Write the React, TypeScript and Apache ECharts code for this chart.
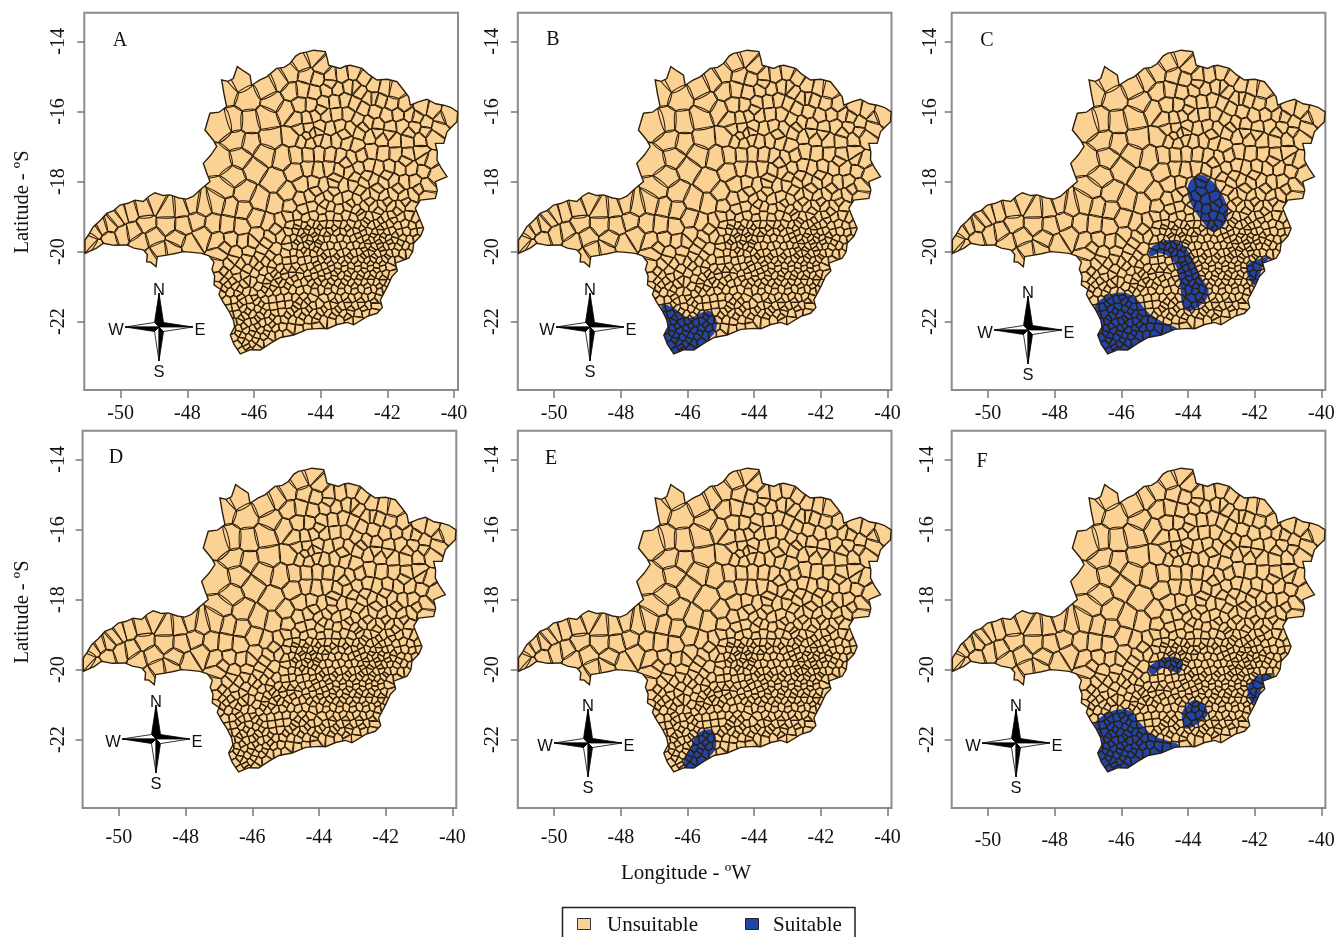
import React, { useEffect, useRef } from "react";
import * as echarts from "echarts";

type P = [number, number];

const xTicks = [-50, -48, -46, -44, -42, -40];
const yTicks = [-14, -16, -18, -20, -22];
const panelNames = ["A", "B", "C", "D", "E", "F"];
const legendNames = ["Unsuitable", "Suitable"];

// State outline (longitude, latitude)
const stateOutline: P[] = [
  [-51.07,-20.05],[-51.07,-19.67],[-50.95,-19.5],[-50.82,-19.29],[-50.62,-19.12],[-50.42,-18.91],[-50.2,-18.82],[-50.02,-18.67],[-49.78,-18.62],[-49.57,-18.53],[-49.32,-18.57],[-49.15,-18.42],[-48.97,-18.32],[-48.72,-18.4],[-48.52,-18.38],[-48.25,-18.47],[-48.02,-18.5],[-47.82,-18.42],[-47.62,-18.24],[-47.32,-18.0],[-47.42,-17.75],[-47.52,-17.48],[-47.3,-17.25],[-47.12,-17.0],[-47.22,-16.82],[-47.47,-16.53],[-47.4,-16.3],[-47.32,-16.05],[-47.05,-16.02],[-46.82,-15.86],[-46.9,-15.5],[-46.97,-15.1],[-46.78,-15.14],[-46.62,-15.06],[-46.5,-14.72],[-46.3,-14.85],[-46.12,-14.96],[-46.07,-15.25],[-45.82,-15.1],[-45.62,-15.01],[-45.32,-14.77],[-45.1,-14.74],[-44.92,-14.63],[-44.75,-14.42],[-44.62,-14.34],[-44.4,-14.3],[-44.21,-14.25],[-43.86,-14.29],[-43.8,-14.5],[-43.76,-14.68],[-43.41,-14.77],[-43.25,-14.7],[-43.11,-14.68],[-42.76,-14.77],[-42.55,-14.95],[-42.31,-15.1],[-42.0,-15.08],[-41.71,-15.15],[-41.5,-15.4],[-41.36,-15.58],[-41.31,-15.82],[-41.05,-15.72],[-40.81,-15.65],[-40.55,-15.78],[-40.31,-15.82],[-40.1,-15.88],[-39.89,-16.01],[-39.91,-16.29],[-40.05,-16.42],[-40.21,-16.58],[-40.31,-16.91],[-40.56,-16.91],[-40.5,-17.15],[-40.51,-17.39],[-40.38,-17.62],[-40.21,-17.86],[-40.56,-18.0],[-40.5,-18.25],[-40.56,-18.48],[-41.01,-18.53],[-41.16,-18.76],[-41.06,-19.0],[-40.91,-19.34],[-41.0,-19.55],[-41.21,-19.76],[-41.24,-20.0],[-41.36,-20.19],[-41.76,-20.33],[-41.7,-20.55],[-41.86,-20.71],[-42.0,-21.0],[-42.21,-21.38],[-42.15,-21.6],[-42.31,-21.76],[-42.6,-21.85],[-43.01,-22.09],[-43.2,-22.02],[-43.5,-22.08],[-43.8,-22.2],[-44.01,-22.19],[-44.4,-22.22],[-44.81,-22.38],[-45.2,-22.45],[-45.51,-22.62],[-45.81,-22.81],[-46.1,-22.8],[-46.41,-22.92],[-46.6,-22.65],[-46.71,-22.38],[-46.58,-22.15],[-46.62,-21.95],[-46.75,-21.7],[-46.92,-21.45],[-47.05,-21.22],[-47.0,-21.08],[-47.2,-20.95],[-47.18,-20.7],[-47.26,-20.5],[-47.2,-20.3],[-47.35,-20.12],[-47.57,-20.05],[-47.85,-20.02],[-48.12,-20.0],[-48.4,-20.06],[-48.62,-20.1],[-48.9,-20.14],[-48.94,-20.43],[-49.1,-20.3],[-49.22,-20.29],[-49.2,-20.08],[-49.32,-19.95],[-49.6,-19.9],[-49.82,-19.81],[-50.2,-19.82],[-50.52,-19.76],[-50.72,-19.9],
];

// Municipality centres; the boundary mesh is derived from them
const triangleSeats: P[] = [
  [-50.88,-19.72],[-50.55,-19.32],[-50.35,-19.62],[-50.12,-19.08],[-49.95,-19.48],[-49.7,-18.88],[-49.62,-19.42],[-49.3,-18.78],[-49.25,-19.2],[-48.95,-18.62],[-49.0,-19.62],[-49.42,-19.72],[-48.85,-19.98],[-48.62,-18.82],[-48.6,-19.22],[-48.32,-19.65],[-48.18,-18.78],[-48.12,-19.25],[-47.92,-19.8],[-47.85,-18.66],[-47.72,-19.12],[-47.55,-19.55],[-47.52,-18.72],[-50.72,-19.85],[-49.1,-20.18],[-48.45,-19.92],[-50.75,-19.45],[-50.3,-19.25],[-49.95,-18.95],
];
const northwestSeats: P[] = [
  [-46.82,-15.42],[-46.42,-15.12],[-46.18,-15.62],[-45.62,-15.32],[-45.22,-15.12],[-45.42,-15.72],[-44.92,-14.92],[-44.88,-15.42],[-45.02,-15.98],[-45.62,-16.18],[-46.12,-16.32],[-46.88,-16.38],[-46.52,-16.82],[-46.98,-17.42],[-45.98,-17.62],[-46.12,-16.92],[-45.52,-16.78],[-45.12,-17.32],[-45.38,-17.98],[-46.62,-17.88],[-46.88,-18.22],[-46.32,-18.32],[-45.82,-18.55],[-45.35,-18.65],[-44.98,-18.32],[-46.62,-16.3],[-45.68,-17.22],[-46.4,-17.3],
];
const northSeats: P[] = [
  [-44.55,-14.62],[-44.22,-14.48],[-43.98,-14.72],[-44.42,-14.98],[-44.08,-15.08],[-43.7,-15.02],[-43.35,-14.98],[-43.02,-14.92],[-42.72,-15.08],[-42.42,-15.28],[-42.08,-15.35],[-41.75,-15.42],[-44.55,-15.38],[-44.18,-15.45],[-43.82,-15.38],[-43.5,-15.35],[-43.15,-15.28],[-42.82,-15.42],[-42.55,-15.62],[-42.22,-15.68],[-41.85,-15.78],[-41.5,-15.82],[-44.62,-15.82],[-44.28,-15.82],[-43.92,-15.75],[-43.58,-15.72],[-43.28,-15.68],[-42.98,-15.78],[-42.72,-15.92],[-42.38,-16.0],[-42.02,-16.12],[-41.68,-16.08],[-41.32,-16.1],[-40.98,-15.92],[-40.62,-16.0],[-40.22,-16.12],[-44.72,-16.22],[-44.42,-16.2],[-44.15,-16.12],[-43.85,-16.12],[-43.52,-16.08],[-43.18,-16.08],[-42.88,-16.22],[-42.58,-16.32],[-42.28,-16.38],[-41.92,-16.45],[-41.55,-16.42],[-41.18,-16.45],[-40.82,-16.32],[-40.48,-16.42],[-44.62,-16.52],[-44.38,-16.48],[-44.22,-16.62],[-44.02,-16.42],[-43.72,-16.48],[-43.42,-16.42],[-43.12,-16.48],[-42.82,-16.6],[-42.52,-16.7],[-42.15,-16.78],[-41.78,-16.82],[-41.4,-16.82],[-41.02,-16.78],[-40.68,-16.72],[-44.82,-16.72],[-44.55,-16.82],[-44.32,-16.88],[-44.08,-16.78],[-43.85,-16.85],[-43.52,-16.82],[-43.22,-16.88],[-42.92,-16.98],
  [-42.95,-15.3],[-42.4,-15.62],[-41.12,-16.15],[-40.42,-16.2],[-43.72,-15.2],[-44.0,-15.95],[-42.72,-16.45],[-41.35,-16.62],[-40.85,-16.58],[-44.42,-16.7],[-44.1,-16.58],[-43.3,-16.65],[-42.3,-16.6],[-41.95,-16.65],
];
const centreSeats: P[] = [
  [-44.72,-17.25],[-44.38,-17.22],[-44.05,-17.2],[-43.72,-17.22],[-43.4,-17.28],[-43.08,-17.32],[-42.78,-17.25],[-42.48,-17.15],[-42.12,-17.2],[-41.75,-17.22],[-41.38,-17.25],[-41.02,-17.18],[-40.78,-17.42],[-44.75,-17.72],[-44.38,-17.62],[-44.08,-17.68],[-43.75,-17.62],[-43.45,-17.68],[-43.15,-17.72],[-42.85,-17.62],[-42.55,-17.55],[-42.25,-17.62],[-41.95,-17.58],[-41.62,-17.62],[-41.28,-17.62],[-40.92,-17.68],[-40.55,-17.82],[-44.55,-18.08],[-44.22,-18.05],[-43.92,-18.12],[-43.6,-18.05],[-43.32,-18.12],[-43.02,-18.1],[-42.72,-18.02],[-42.42,-17.95],[-42.12,-18.02],[-41.82,-17.98],[-41.5,-18.02],[-41.18,-18.0],[-40.85,-18.12],[-44.62,-18.52],[-44.3,-18.42],[-44.02,-18.5],[-43.75,-18.42],[-43.48,-18.5],[-43.2,-18.45],[-42.92,-18.52],[-42.65,-18.4],[-42.38,-18.35],[-42.1,-18.42],[-41.82,-18.36],[-41.52,-18.42],[-41.22,-18.38],[-40.88,-18.42],[-44.9,-18.72],[-44.55,-18.8],[-44.25,-18.72],[-43.98,-18.82],[-43.72,-18.72],[-43.45,-18.8],[-43.18,-18.72],[-42.92,-18.8],[-42.68,-18.7],[-42.42,-18.72],[-42.15,-18.68],[-41.88,-18.72],[-41.6,-18.7],[-41.32,-18.7],
  [-43.25,-17.45],[-42.62,-17.85],[-42.02,-17.82],[-41.45,-17.4],[-40.9,-17.38],[-43.55,-17.92],[-42.98,-17.88],[-42.28,-18.2],[-41.68,-18.2],[-41.05,-18.22],[-43.1,-18.62],[-42.55,-18.58],[-42.02,-18.58],[-41.45,-18.58],[-43.62,-18.28],[-44.15,-18.28],[-42.82,-18.25],[-43.88,-18.65],[-42.28,-18.85],[-41.72,-18.85],[-42.82,-18.9],
];
const midwestSeats: P[] = [
  [-47.1,-18.62],[-46.72,-18.72],[-46.32,-18.82],[-47.22,-19.2],[-46.8,-19.25],[-46.38,-19.3],[-45.95,-19.05],[-45.55,-19.18],[-45.2,-19.15],[-47.08,-19.7],[-46.7,-19.65],[-46.3,-19.7],[-45.9,-19.55],[-45.52,-19.6],[-45.18,-19.55],[-47.0,-20.05],[-46.55,-20.05],[-46.15,-20.0],[-45.75,-19.95],[-45.38,-19.95],[-47.08,-20.42],[-46.75,-20.38],[-46.4,-20.35],[-46.0,-20.3],[-45.65,-20.28],[-45.3,-20.25],
  [-46.9,-19.9],[-46.05,-19.72],[-45.62,-19.75],[-45.35,-19.35],[-46.2,-20.22],[-45.82,-20.15],[-45.5,-20.12],[-46.6,-20.22],[-46.9,-20.58],[-46.55,-20.55],[-46.2,-20.5],[-45.85,-20.42],[-45.45,-20.38],
];
const southSeats: P[] = [
  [-44.95,-19.02],[-44.7,-18.98],[-44.45,-19.05],[-44.2,-18.98],[-43.95,-19.05],[-43.72,-18.98],[-43.48,-19.04],[-43.25,-18.96],[-43.02,-19.04],[-42.78,-18.96],[-42.55,-19.03],[-42.32,-18.96],[-42.08,-19.04],[-41.85,-18.97],[-41.6,-19.03],[-41.35,-18.98],[-41.15,-19.06],
  [-44.9,-19.24],[-44.68,-19.2],[-44.48,-19.26],[-44.3,-19.2],[-44.12,-19.26],[-43.92,-19.2],[-43.72,-19.25],[-43.5,-19.2],[-43.3,-19.26],[-43.08,-19.2],[-42.88,-19.26],[-42.68,-19.2],[-42.48,-19.26],[-42.3,-19.2],[-42.12,-19.26],[-41.92,-19.2],[-41.7,-19.26],[-41.48,-19.2],[-41.25,-19.26],[-41.02,-19.22],
  [-44.95,-19.44],[-44.75,-19.4],[-44.58,-19.46],[-44.42,-19.4],[-44.26,-19.44],[-44.1,-19.4],[-43.92,-19.45],[-43.72,-19.4],[-43.52,-19.45],[-43.32,-19.42],[-43.12,-19.46],[-42.92,-19.41],[-42.72,-19.46],[-42.55,-19.41],[-42.38,-19.46],[-42.2,-19.41],[-42.02,-19.46],[-41.85,-19.41],[-41.65,-19.46],[-41.42,-19.42],[-41.2,-19.46],[-41.0,-19.42],
  [-44.98,-19.66],[-44.82,-19.62],[-44.65,-19.66],[-44.48,-19.6],[-44.32,-19.64],[-44.16,-19.6],[-44.0,-19.65],[-43.82,-19.6],[-43.62,-19.65],[-43.42,-19.6],[-43.22,-19.66],[-43.02,-19.61],[-42.82,-19.66],[-42.65,-19.61],[-42.48,-19.66],[-42.32,-19.61],[-42.15,-19.65],[-41.98,-19.6],[-41.78,-19.66],[-41.55,-19.62],[-41.32,-19.66],[-41.12,-19.62],
  [-44.95,-19.86],[-44.78,-19.82],[-44.6,-19.86],[-44.42,-19.82],[-44.25,-19.85],[-44.08,-19.8],[-43.9,-19.86],[-43.7,-19.82],[-43.5,-19.86],[-43.32,-19.8],[-43.12,-19.85],[-42.92,-19.8],[-42.75,-19.86],[-42.58,-19.81],[-42.4,-19.86],[-42.22,-19.81],[-42.05,-19.86],[-41.88,-19.82],[-41.68,-19.86],[-41.45,-19.82],[-41.25,-19.88],
  [-45.02,-20.06],[-44.82,-20.02],[-44.62,-20.06],[-44.42,-20.02],[-44.22,-20.05],[-44.02,-20.0],[-43.82,-20.06],[-43.62,-20.02],[-43.42,-20.06],[-43.22,-20.0],[-43.02,-20.05],[-42.82,-20.0],[-42.65,-20.06],[-42.48,-20.01],[-42.3,-20.06],[-42.12,-20.01],[-41.95,-20.06],[-41.75,-20.02],[-41.55,-20.06],[-41.35,-20.04],
  [-45.0,-20.26],[-44.8,-20.22],[-44.58,-20.27],[-44.38,-20.22],[-44.18,-20.26],[-43.98,-20.21],[-43.78,-20.26],[-43.58,-20.21],[-43.38,-20.26],[-43.18,-20.21],[-42.98,-20.26],[-42.78,-20.2],[-42.6,-20.26],[-42.42,-20.21],[-42.24,-20.26],[-42.06,-20.21],[-41.88,-20.26],[-41.66,-20.24],
  [-45.98,-20.62],[-45.72,-20.56],[-45.48,-20.52],[-45.22,-20.48],[-44.98,-20.46],[-44.75,-20.42],[-44.52,-20.47],[-44.3,-20.42],[-44.08,-20.47],[-43.88,-20.42],[-43.68,-20.47],[-43.48,-20.42],[-43.28,-20.47],[-43.08,-20.42],[-42.88,-20.47],[-42.68,-20.41],[-42.5,-20.46],[-42.32,-20.41],[-42.14,-20.46],[-41.95,-20.42],
  [-47.02,-20.72],[-46.78,-20.68],[-46.52,-20.72],[-46.28,-20.66],[-46.05,-20.84],[-45.78,-20.78],[-45.55,-20.74],[-45.3,-20.7],[-45.08,-20.68],[-44.85,-20.64],[-44.62,-20.68],[-44.4,-20.64],[-44.18,-20.68],[-43.98,-20.63],[-43.78,-20.68],[-43.58,-20.63],[-43.38,-20.68],[-43.18,-20.63],[-42.98,-20.68],[-42.78,-20.62],[-42.6,-20.67],[-42.42,-20.62],[-42.24,-20.67],[-42.05,-20.63],[-41.88,-20.68],
  [-47.05,-21.0],[-46.8,-20.94],[-46.55,-20.98],[-46.3,-20.94],[-45.85,-21.0],[-45.62,-20.96],[-45.38,-20.93],[-45.15,-20.9],[-44.92,-20.86],[-44.7,-20.9],[-44.48,-20.85],[-44.28,-20.9],[-44.08,-20.85],[-43.88,-20.9],[-43.68,-20.84],[-43.48,-20.9],[-43.28,-20.85],[-43.08,-20.9],[-42.88,-20.84],[-42.68,-20.89],[-42.5,-20.84],[-42.32,-20.89],[-42.14,-20.85],[-41.98,-20.92],
  [-46.98,-21.2],[-46.72,-21.16],[-46.48,-21.2],[-46.24,-21.14],[-46.02,-21.2],[-45.78,-21.2],[-45.55,-21.16],[-45.32,-21.14],[-45.08,-21.1],[-44.85,-21.08],[-44.62,-21.12],[-44.4,-21.07],[-44.18,-21.12],[-43.98,-21.07],[-43.78,-21.12],[-43.58,-21.06],[-43.38,-21.12],[-43.18,-21.07],[-42.98,-21.12],[-42.78,-21.06],[-42.58,-21.11],[-42.4,-21.06],[-42.22,-21.12],[-42.08,-21.08],
  [-46.82,-21.4],[-46.58,-21.38],[-46.35,-21.42],[-46.12,-21.36],[-45.9,-21.42],[-45.68,-21.38],[-45.45,-21.36],[-45.22,-21.33],[-44.98,-21.3],[-44.75,-21.32],[-44.52,-21.28],[-44.27,-21.33],[-43.88,-21.33],[-43.68,-21.28],[-43.48,-21.34],[-43.28,-21.28],[-43.08,-21.33],[-42.88,-21.27],[-42.68,-21.32],[-42.48,-21.28],[-42.28,-21.33],
  [-46.78,-21.62],[-46.55,-21.58],[-46.32,-21.62],[-46.1,-21.58],[-45.88,-21.63],[-45.65,-21.58],[-45.42,-21.56],[-45.18,-21.52],[-44.95,-21.5],[-44.72,-21.54],[-44.48,-21.5],[-44.25,-21.54],[-44.02,-21.5],[-43.8,-21.55],[-43.6,-21.5],[-43.38,-21.56],[-43.18,-21.5],[-42.98,-21.55],[-42.78,-21.49],[-42.58,-21.54],[-42.38,-21.52],
  [-46.72,-21.82],[-46.5,-21.78],[-46.28,-21.83],[-46.05,-21.78],[-45.82,-21.83],[-45.6,-21.78],[-45.38,-21.76],[-45.15,-21.72],[-44.9,-21.72],[-44.68,-21.76],[-44.45,-21.72],[-44.22,-21.76],[-44.0,-21.72],[-43.78,-21.76],[-43.55,-21.72],[-43.32,-21.78],[-43.1,-21.72],[-42.88,-21.76],[-42.65,-21.72],[-42.42,-21.74],
  [-46.62,-22.02],[-46.42,-21.98],[-46.2,-22.03],[-45.98,-21.98],[-45.76,-22.03],[-45.55,-21.98],[-45.32,-21.95],[-45.08,-21.93],[-44.85,-21.95],[-44.62,-21.98],[-44.38,-21.94],[-44.15,-21.98],[-43.92,-21.94],[-43.68,-21.96],[-43.42,-21.94],[-43.15,-21.96],[-42.9,-21.95],
  [-46.65,-22.24],[-46.45,-22.2],[-46.24,-22.24],[-46.02,-22.2],[-45.8,-22.24],[-45.58,-22.2],[-45.36,-22.18],[-45.14,-22.15],[-44.9,-22.17],[-44.65,-22.2],[-44.4,-22.16],[-44.12,-22.1],
  [-46.58,-22.44],[-46.36,-22.4],[-46.14,-22.44],[-45.92,-22.4],[-45.7,-22.42],[-45.48,-22.38],[-45.25,-22.36],[-45.02,-22.34],
  [-46.48,-22.64],[-46.26,-22.6],[-46.05,-22.64],[-45.82,-22.6],[-45.6,-22.58],
  [-46.36,-22.84],[-46.14,-22.8],[-45.92,-22.76],
];
// Tight clusters where the reference map turns almost black
const clusterSeats: P[] = [
  [-44.4,-19.33],[-44.2,-19.52],[-44.52,-19.54],[-44.05,-19.31],[-43.82,-19.52],[-44.35,-19.74],[-44.72,-19.73],[-44.05,-19.73],[-44.5,-19.96],[-44.14,-19.93],[-44.72,-19.3],[-43.6,-19.33],[-43.22,-19.33],
  [-42.2,-19.33],[-42.4,-19.53],[-42.1,-19.55],[-41.92,-19.73],[-42.25,-19.73],[-42.58,-19.73],[-42.88,-19.54],[-42.78,-19.33],[-41.75,-19.53],[-42.45,-19.93],[-42.14,-19.93],[-42.72,-19.93],[-41.6,-19.74],[-42.62,-19.12],[-42.2,-19.12],[-41.82,-19.1],
  [-43.9,-20.13],[-43.52,-20.14],[-43.12,-20.13],[-42.72,-20.13],[-42.38,-20.14],[-42.0,-20.14],[-43.3,-20.34],[-42.9,-20.35],[-42.52,-20.34],[-42.16,-20.34],[-44.14,-20.34],[-43.72,-20.34],[-43.5,-20.55],[-43.1,-20.55],[-42.7,-20.54],[-42.33,-20.53],[-44.2,-20.55],[-43.82,-20.56],[-44.6,-20.55],
  [-43.6,-20.75],[-43.22,-20.76],[-42.85,-20.74],[-42.5,-20.75],[-42.14,-20.76],[-43.98,-20.76],[-44.38,-20.76],[-44.78,-20.76],[-43.38,-20.98],[-43.0,-20.98],[-42.62,-20.97],[-42.26,-20.98],[-43.78,-20.98],[-44.18,-20.98],
  [-46.42,-21.3],[-46.0,-21.3],[-45.78,-21.5],[-46.42,-21.5],[-46.18,-21.7],[-45.72,-21.7],[-46.38,-21.9],[-45.9,-21.92],[-45.45,-21.87],[-46.3,-22.13],[-45.9,-22.12],[-45.46,-22.08],[-46.48,-22.33],[-46.05,-22.33],[-45.62,-22.32],[-46.38,-22.53],[-45.96,-22.52],[-46.2,-22.72],
  [-45.0,-21.82],[-44.55,-21.85],[-44.1,-21.85],[-43.65,-21.85],[-43.2,-21.87],[-44.78,-21.63],[-44.35,-21.63],[-43.9,-21.65],[-43.48,-21.65],[-43.08,-21.64],[-42.68,-21.63],[-44.65,-21.42],[-44.4,-21.42],[-43.58,-21.42],[-43.18,-21.41],[-42.78,-21.41],[-42.38,-21.42],
  [-46.9,-21.05],[-46.42,-21.07],[-46.64,-20.84],[-46.18,-20.82],[-46.9,-20.83],[-45.4,-20.62],[-45.1,-20.58],[-44.85,-20.53],[-45.62,-20.86],[-45.25,-20.82],[-45.42,-21.04],[-45.0,-20.98],[-45.68,-21.08],
];

// Suitable areas per panel
const suitableB: P[][] = [[
  [-46.76,-21.52],[-46.41,-21.61],[-46.12,-21.81],[-45.91,-21.89],[-45.61,-21.75],[-45.31,-21.71],[-45.13,-21.95],[-45.19,-22.32],[-45.71,-22.75],[-46.12,-23.0],[-46.5,-23.0],[-46.8,-22.5],[-46.75,-21.9],
]];
const suitableC: P[][] = [
  [[-43.62,-17.81],[-43.27,-18.0],[-42.97,-18.38],[-42.8,-18.86],[-42.92,-19.24],[-43.27,-19.43],[-43.57,-19.14],[-43.87,-18.72],[-44.02,-18.29],[-43.92,-17.96]],
  [[-45.17,-20.0],[-45.02,-19.81],[-44.57,-19.67],[-44.17,-19.81],[-43.87,-20.19],[-43.62,-20.71],[-43.39,-21.09],[-43.47,-21.38],[-43.97,-21.71],[-44.17,-21.52],[-44.22,-21.09],[-44.32,-20.52],[-44.52,-20.19],[-44.87,-20.05],[-45.12,-20.14]],
  [[-41.97,-20.24],[-41.57,-20.16],[-41.77,-20.43],[-41.87,-20.76],[-42.02,-20.95],[-42.22,-20.67],[-42.22,-20.38]],
  [[-46.8,-21.57],[-46.47,-21.28],[-45.97,-21.17],[-45.57,-21.33],[-45.17,-21.76],[-44.77,-22.0],[-44.29,-22.24],[-44.5,-22.6],[-45.72,-23.0],[-46.5,-23.0],[-46.8,-22.33],[-46.75,-21.95]],
];
const suitableE: P[][] = [[
  [-45.57,-21.75],[-45.26,-21.72],[-45.14,-22.01],[-45.2,-22.34],[-45.62,-22.7],[-45.97,-22.95],[-46.12,-22.6],[-45.92,-22.25],[-45.77,-21.92],
]];
const suitableF: P[][] = [
  [[-45.19,-19.96],[-44.87,-19.73],[-44.42,-19.63],[-44.17,-19.82],[-44.27,-20.11],[-44.52,-20.01],[-44.77,-19.96],[-45.07,-20.15]],
  [[-44.17,-21.2],[-43.82,-20.87],[-43.52,-21.01],[-43.42,-21.29],[-43.77,-21.58],[-44.07,-21.68],[-44.17,-21.44]],
  [[-41.92,-20.2],[-41.47,-20.11],[-41.77,-20.49],[-41.92,-20.96],[-42.12,-20.91],[-42.22,-20.58],[-42.12,-20.34]],
  [[-46.8,-21.53],[-46.27,-21.18],[-45.77,-21.17],[-45.47,-21.49],[-45.07,-21.87],[-44.67,-22.01],[-44.27,-22.18],[-44.5,-22.6],[-45.77,-23.0],[-46.5,-23.0],[-46.8,-22.29],[-46.7,-21.82]],
];
const suitableByPanel: P[][][] = [[], suitableB, suitableC, [], suitableE, suitableF];

const seats: P[] = [...triangleSeats, ...northwestSeats, ...northSeats, ...centreSeats, ...midwestSeats, ...southSeats, ...clusterSeats];

// Boundary mesh: each cell is the bounding box cut by the bisector to every other centre
function buildCells(points: P[]): P[][] {
  const box: P[] = [[-51.3, -14.0], [-39.7, -14.0], [-39.7, -23.2], [-51.3, -23.2]];
  return points.map((p, i) => {
    let poly = box;
    const others = points.filter((_, j) => j !== i)
      .map((q) => ({ q, d: (q[0] - p[0]) ** 2 + (q[1] - p[1]) ** 2 }))
      .sort((a, b) => a.d - b.d);
    for (const { q, d } of others) {
      const reach = Math.max(...poly.map((v) => (v[0] - p[0]) ** 2 + (v[1] - p[1]) ** 2));
      if (d > 4 * reach) break;
      const mx = (p[0] + q[0]) / 2, my = (p[1] + q[1]) / 2;
      const nx = q[0] - p[0], ny = q[1] - p[1];
      const side = (v: P) => (v[0] - mx) * nx + (v[1] - my) * ny;
      const out: P[] = [];
      for (let k = 0; k < poly.length; k++) {
        const a = poly[k], b = poly[(k + 1) % poly.length];
        const sa = side(a), sb = side(b);
        if (sa <= 0) out.push(a);
        if (sa < 0 !== sb < 0 && sa !== sb) {
          const t = sa / (sa - sb);
          out.push([a[0] + (b[0] - a[0]) * t, a[1] + (b[1] - a[1]) * t]);
        }
      }
      poly = out;
      if (poly.length < 3) break;
    }
    return poly;
  });
}

const SERIF = "'Liberation Serif', 'Times New Roman', serif";
const SANS = "'Liberation Sans', Arial, sans-serif";
const C_FILL = "#fcd294";
const C_BLUE = "#1f44aa";
const C_LINE = "#2e1f0a";

const panels = [
  { left: 84.3, top: 12.7, yMargin: 17, xMargin: 12, compass: [159, 327], letter: [120, 39] },
  { left: 517.8, top: 12.7, yMargin: 17, xMargin: 12, compass: [590, 327], letter: [553, 38] },
  { left: 951.7, top: 12.7, yMargin: 13, xMargin: 12, compass: [1028, 330], letter: [987, 39] },
  { left: 82.6, top: 430.7, yMargin: 16, xMargin: 18, compass: [156, 739], letter: [116, 456] },
  { left: 517.8, top: 430.7, yMargin: 17, xMargin: 18, compass: [588, 743], letter: [551, 457] },
  { left: 951.7, top: 430.7, yMargin: 16, xMargin: 21, compass: [1016, 743], letter: [982, 460] },
];
const PW = 373.7, PH = 377.3;

function compass(cx: number, cy: number) {
  const L = 34, W = 4.5;
  const tris: { pts: number[][]; fill: string }[] = [
    { pts: [[0, -L], [-W, -W], [0, 0]], fill: "#000" },
    { pts: [[0, -L], [W, -W], [0, 0]], fill: "#000" },
    { pts: [[L, 0], [W, -W], [0, 0]], fill: "#000" },
    { pts: [[L, 0], [W, W], [0, 0]], fill: "#fff" },
    { pts: [[0, L], [-W, W], [0, 0]], fill: "#fff" },
    { pts: [[0, L], [W, W], [0, 0]], fill: "#000" },
    { pts: [[-L, 0], [-W, -W], [0, 0]], fill: "#fff" },
    { pts: [[-L, 0], [-W, W], [0, 0]], fill: "#000" },
  ];
  const label = (t: string, x: number, y: number) => ({
    type: "text", x, y,
    style: { text: t, fontFamily: SANS, fontSize: 16.5, fill: "#111", align: "center", verticalAlign: "middle" },
  });
  return {
    type: "group", x: cx, y: cy, z: 20,
    children: [
      ...tris.map((t) => ({
        type: "polygon", shape: { points: t.pts },
        style: { fill: t.fill, stroke: "#000", lineWidth: 0.8 },
      })),
      label("N", 0, -38), label("S", 0, 44), label("W", -43, 2), label("E", 41, 2),
    ],
  };
}

export default function App() {
  const ref = useRef<HTMLDivElement>(null);
  useEffect(() => {
    if (!ref.current) return;
    const chart = echarts.init(ref.current, undefined, { renderer: "svg" });
    const cells = buildCells(seats);
    const px = (pts: P[], api: any) => pts.map((v) => api.coord(v));
    const clipTo = (api: any) => ({ type: "polygon", shape: { points: px(stateOutline, api) } });

    const series: any[] = [];
    panels.forEach((_, i) => {
      const base = { type: "custom", xAxisIndex: i, yAxisIndex: i, coordinateSystem: "cartesian2d", data: [[-45, -18]], silent: true, animation: false };
      series.push({
        ...base, name: legendNames[0], z: 2,
        renderItem: (_p: any, api: any) => ({
          type: "polygon", shape: { points: px(stateOutline, api) }, style: { fill: C_FILL, stroke: "none" },
        }),
      });
      if (suitableByPanel[i].length) {
        series.push({
          ...base, name: legendNames[1], z: 3,
          renderItem: (_p: any, api: any) => ({
            type: "group", clipPath: clipTo(api),
            children: suitableByPanel[i].map((poly) => ({
              type: "polygon", shape: { points: px(poly, api), smooth: 0.35 }, style: { fill: C_BLUE, stroke: "none" },
            })),
          }),
        });
      }
      series.push({
        ...base, name: "Municipalities", z: 4,
        renderItem: (_p: any, api: any) => ({
          type: "group", clipPath: clipTo(api),
          children: cells.map((poly) => ({
            type: "polygon", shape: { points: px(poly, api), smooth: 0.22 }, style: { fill: "none", stroke: C_LINE, lineWidth: 1.05 },
          })),
        }),
      });
      series.push({
        ...base, name: "State", z: 5,
        renderItem: (_p: any, api: any) => ({
          type: "polygon", shape: { points: px(stateOutline, api) }, style: { fill: "none", stroke: C_LINE, lineWidth: 1.4 },
        }),
      });
    });

    const graphic: any[] = [];
    panels.forEach((p, i) => {
      graphic.push(compass(p.compass[0], p.compass[1]));
      graphic.push({
        type: "text", x: p.letter[0], y: p.letter[1], z: 20,
        style: { text: panelNames[i], fontFamily: SERIF, fontSize: 20, fill: "#111", align: "center", verticalAlign: "middle" },
      });
    });
    const axisTitle = (t: string, x: number, y: number, rotation: number, size: number) => ({
      type: "text", x, y, rotation, z: 20,
      style: { text: t, fontFamily: SERIF, fontSize: size, fill: "#111", align: "center", verticalAlign: "middle" },
    });
    graphic.push(axisTitle("Latitude - ºS", 21, 202, Math.PI / 2, 20.5));
    graphic.push(axisTitle("Latitude - ºS", 21, 612, Math.PI / 2, 20.5));
    graphic.push(axisTitle("Longitude - ºW", 686, 872, 0, 21));
    graphic.push({
      type: "rect", shape: { x: 562.5, y: 907.5, width: 292.5, height: 50 }, z: 20,
      style: { fill: "#fff", stroke: "#222", lineWidth: 1.5 },
    });
    graphic.push({ type: "rect", shape: { x: 577.5, y: 918.5, width: 13, height: 11 }, z: 21, style: { fill: C_FILL, stroke: "#333", lineWidth: 1 } });
    graphic.push({ type: "rect", shape: { x: 745.5, y: 918.5, width: 13, height: 11 }, z: 21, style: { fill: C_BLUE, stroke: "#222", lineWidth: 1 } });
    graphic.push({ type: "text", x: 607, y: 924, z: 21, style: { text: legendNames[0], fontFamily: SERIF, fontSize: 21, fill: "#111", verticalAlign: "middle" } });
    graphic.push({ type: "text", x: 773, y: 924, z: 21, style: { text: legendNames[1], fontFamily: SERIF, fontSize: 21, fill: "#111", verticalAlign: "middle" } });

    chart.setOption({
      animation: false,
      backgroundColor: "#fff",
      grid: panels.map((p) => ({
        left: p.left, top: p.top, width: PW, height: PH, show: true,
        borderColor: "#8c8c8c", borderWidth: 2, backgroundColor: "#fff",
      })),
      xAxis: panels.map((p, i) => ({
        type: "value", gridIndex: i, min: -51.09, max: -39.88,
        splitLine: { show: false }, axisLine: { show: false },
        axisTick: { show: true, length: 8, lineStyle: { color: "#777", width: 1.5 }, customValues: xTicks },
        axisLabel: { show: true, customValues: xTicks, fontFamily: SERIF, fontSize: 20, color: "#111", margin: p.xMargin, hideOverlap: false },
      })),
      yAxis: panels.map((p, i) => ({
        type: "value", gridIndex: i, min: -23.95, max: -13.18,
        splitLine: { show: false }, axisLine: { show: false },
        axisTick: { show: true, length: 7, lineStyle: { color: "#777", width: 1.5 }, customValues: yTicks },
        axisLabel: { show: true, customValues: yTicks, rotate: 90, fontFamily: SERIF, fontSize: 20, color: "#111", margin: p.yMargin, hideOverlap: false },
      })),
      series,
      graphic,
    });
    return () => chart.dispose();
  }, []);
  return <div ref={ref} style={{ position: "absolute", left: 0, top: 0, width: 1340, height: 937, overflow: "hidden", filter: "blur(0.45px)" }} />;
}
